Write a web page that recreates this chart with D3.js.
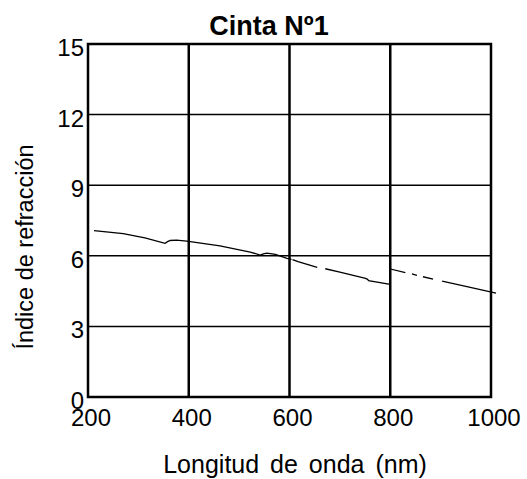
<!DOCTYPE html>
<html><head><meta charset="utf-8">
<script src="https://cdn.jsdelivr.net/npm/d3@7"></script>
<style>body{margin:0;background:#fff}svg{display:block}text{font-family:"Liberation Sans",Arial,sans-serif;fill:#000}</style>
</head><body>
<script>
const wavelengths = [212,270,313,353,358,363,376,396,462,522,542,548,555,572,595,604,null,606,617,655,null,671,700,751,755,757,797,800,800,830,null,843,853,null,865,885,null,903,950,1010];
const refrIndex  = [7.07,6.94,6.76,6.53,6.60,6.65,6.67,6.62,6.42,6.16,6.03,6.08,6.11,6.06,5.89,5.85,null,5.84,5.75,5.51,null,5.45,5.31,5.04,5.00,4.94,4.80,4.76,5.44,5.28,null,5.23,5.17,null,5.11,5.01,null,4.92,4.70,4.41];
const xTicks = [200,400,600,800,1000];
const yTicks = [0,3,6,9,12,15];
const title = "Cinta Nº1", xTitle = "Longitud de onda (nm)", yTitle = "Índice de refracción";

const W=527,H=479, m={l:88,r:36,t:44,b:82};
const svg=d3.select("body").append("svg").attr("width",W).attr("height",H);
const x=d3.scaleLinear().domain([200,1000]).range([m.l,W-m.r]);
const y=d3.scaleLinear().domain([0,15]).range([H-m.b,m.t]);

// grid
svg.append("g").selectAll("line").data(yTicks.slice(1,-1)).join("line")
  .attr("x1",x(200)).attr("x2",x(1000)).attr("y1",d=>y(d)).attr("y2",d=>y(d))
  .attr("stroke","#000").attr("stroke-width",1.5);
svg.append("g").selectAll("line").data(xTicks.slice(1,-1)).join("line")
  .attr("y1",y(0)).attr("y2",y(15)).attr("x1",d=>x(d)).attr("x2",d=>x(d))
  .attr("stroke","#000").attr("stroke-width",2.5);

// data line
const pts=wavelengths.map((w,i)=>({w,v:refrIndex[i]}));
const line=d3.line().defined(d=>d.w!==null).x(d=>x(d.w)).y(d=>y(d.v));
svg.append("path").datum(pts).attr("d",line).attr("fill","none").attr("stroke","#000").attr("stroke-width",1.3);

// frame
svg.append("rect").attr("x",x(200)).attr("y",y(15)).attr("width",x(1000)-x(200)).attr("height",y(0)-y(15))
  .attr("fill","none").attr("stroke","#000").attr("stroke-width",2.5);

// ticks
svg.append("g").selectAll("text").data(yTicks).join("text")
  .attr("x",x(200)-4).attr("y",d=>y(d)+12).attr("text-anchor","end").attr("font-size",24).text(d=>d);
svg.append("g").selectAll("text").data(xTicks).join("text")
  .attr("x",d=>x(d)+3).attr("y",y(0)+29).attr("text-anchor","middle").attr("font-size",24).text(d=>d);

svg.append("text").attr("x",269).attr("y",35).attr("text-anchor","middle").attr("font-size",27).attr("font-weight","bold").text(title);
svg.append("text").attr("x",295).attr("y",473).attr("text-anchor","middle").attr("font-size",25).attr("word-spacing",4).text(xTitle);
svg.append("text").attr("transform","translate(33,247) rotate(-90)").attr("text-anchor","middle").attr("font-size",23.5).text(yTitle);
</script>
</body></html>
